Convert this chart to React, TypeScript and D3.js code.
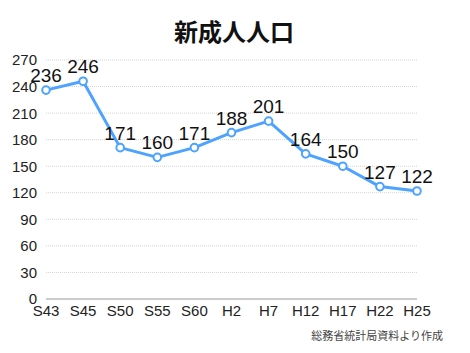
import { useEffect, useRef } from 'react';
import * as d3 from 'd3';

const categories = ['S43', 'S45', 'S50', 'S55', 'S60', 'H2', 'H7', 'H12', 'H17', 'H22', 'H25'];
const values = [236, 246, 171, 160, 171, 188, 201, 164, 150, 127, 122];
const yTicks = [0, 30, 60, 90, 120, 150, 180, 210, 240, 270];
const title = '新成人人口';
const source = '総務省統計局資料より作成';

const W = 470;
const H = 353;
const numFont = '"Liberation Sans", Arial, sans-serif';
const jpFont = '"Noto Sans CJK JP", sans-serif';

export default function App() {
  const svgRef = useRef<SVGSVGElement>(null);

  useEffect(() => {
    const svg = d3.select(svgRef.current);
    svg.selectAll('*').remove();

    const x = d3.scalePoint<string>().domain(categories).range([46, 417]);
    const y = d3.scaleLinear().domain([0, 270]).range([299, 60]);

    svg.append('rect').attr('width', W).attr('height', H).attr('fill', '#fff');

    // title
    svg.append('text')
      .attr('x', 234).attr('y', 41)
      .attr('text-anchor', 'middle')
      .attr('font-family', jpFont)
      .attr('font-weight', 'bold')
      .attr('font-size', 24)
      .attr('fill', '#111')
      .text(title);

    // grid
    svg.append('g')
      .selectAll('line')
      .data(yTicks.filter(d => d > 0))
      .join('line')
      .attr('x1', 46).attr('x2', 417)
      .attr('y1', d => y(d)).attr('y2', d => y(d))
      .attr('stroke', '#d4d4d4')
      .attr('stroke-width', 1)
      .attr('stroke-dasharray', '1,1');

    svg.append('line')
      .attr('x1', 46).attr('x2', 417)
      .attr('y1', y(0)).attr('y2', y(0))
      .attr('stroke', '#999')
      .attr('stroke-width', 1);

    // y tick labels
    svg.append('g')
      .selectAll('text')
      .data(yTicks)
      .join('text')
      .attr('x', 37)
      .attr('y', d => y(d))
      .attr('dy', '0.36em')
      .attr('text-anchor', 'end')
      .attr('font-family', numFont)
      .attr('font-size', 15)
      .attr('fill', '#222')
      .text(d => d);

    // x labels
    svg.append('g')
      .selectAll('text')
      .data(categories)
      .join('text')
      .attr('x', d => x(d)!)
      .attr('y', 316)
      .attr('text-anchor', 'middle')
      .attr('font-family', numFont)
      .attr('font-size', 15)
      .attr('fill', '#222')
      .text(d => d);

    const line = d3.line<number>()
      .x((_, i) => x(categories[i])!)
      .y(d => y(d));

    svg.append('path')
      .datum(values)
      .attr('d', line)
      .attr('fill', 'none')
      .attr('stroke', '#4da3ff')
      .attr('stroke-width', 3)
      .attr('stroke-linejoin', 'round');

    svg.append('g')
      .selectAll('circle')
      .data(values)
      .join('circle')
      .attr('cx', (_, i) => x(categories[i])!)
      .attr('cy', d => y(d))
      .attr('r', 3.8)
      .attr('fill', '#fff')
      .attr('stroke', '#4da3ff')
      .attr('stroke-width', 2);

    // value labels
    svg.append('g')
      .selectAll('text')
      .data(values)
      .join('text')
      .attr('x', (_, i) => x(categories[i])!)
      .attr('y', d => y(d) - 8)
      .attr('text-anchor', 'middle')
      .attr('font-family', numFont)
      .attr('font-size', 19)
      .attr('fill', '#111')
      .text(d => d);

    svg.append('text')
      .attr('x', 443).attr('y', 340)
      .attr('text-anchor', 'end')
      .attr('font-family', jpFont)
      .attr('font-size', 11)
      .attr('fill', '#444')
      .text(source);
  }, []);

  return (
    <svg ref={svgRef} width={W} height={H}
      style={{ position: 'absolute', left: 0, top: 0, display: 'block' }} />
  );
}
